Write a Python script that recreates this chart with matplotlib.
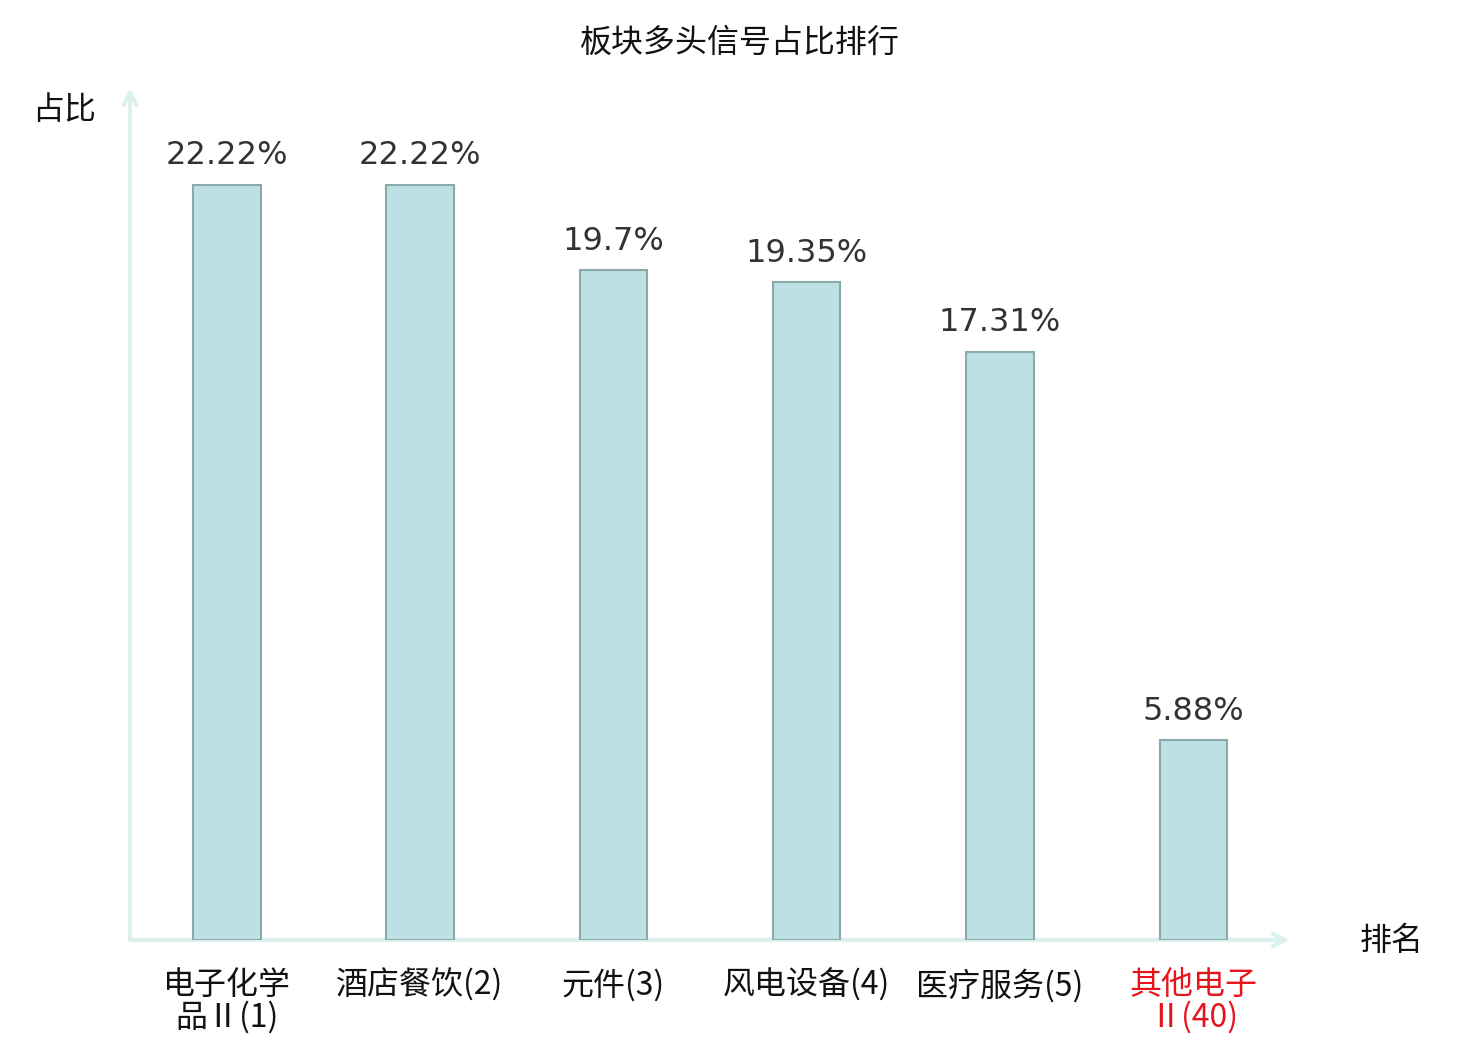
import matplotlib
matplotlib.use("Agg")
import matplotlib.pyplot as plt

plt.rcParams['font.family'] = ['Noto Sans CJK SC', 'DejaVu Sans']

# data
categories = ["电子化学\n品Ⅱ(1)", "酒店餐饮(2)", "元件(3)", "风电设备(4)", "医疗服务(5)", "其他电子\nⅡ(40)"]
values = [22.22, 22.22, 19.7, 19.35, 17.31, 5.88]
value_labels = ["22.22%", "22.22%", "19.7%", "19.35%", "17.31%", "5.88%"]
label_colors = ["#111111", "#111111", "#111111", "#111111", "#111111", "#e8141c"]

fig = plt.figure(figsize=(14.8, 10.4), dpi=100)
ax = fig.add_axes([130 / 1480, 100 / 1040, 1160 / 1480, 852 / 1040])

x = list(range(len(values)))
ax.bar(x, values, width=0.35, color="#bce0e3", edgecolor="#8ba9a9", linewidth=1.5, zorder=2)

for i, v in enumerate(values):
    ax.text(i, v + 0.4, value_labels[i], ha="center", va="bottom",
            fontsize=23, color="#333333", family="DejaVu Sans")

for i, lab in enumerate(categories):
    ax.text(i, -0.85, lab, ha="center", va="top", fontsize=23,
            color=label_colors[i], linespacing=1.0)

ax.set_xlim(-0.5, 5.5)
ax.set_ylim(0, 25.07)
ax.axis("off")

# axis arrows
axis_col = "#dcf1ee"
ax.annotate("", xy=(1.0, 0), xytext=(0, 0), xycoords="axes fraction",
            arrowprops=dict(arrowstyle="->,head_length=0.9,head_width=0.45",
                            color=axis_col, lw=3, shrinkA=0, shrinkB=0), zorder=1)
ax.annotate("", xy=(0, 1.0), xytext=(0, 0), xycoords="axes fraction",
            arrowprops=dict(arrowstyle="->,head_length=0.9,head_width=0.45",
                            color=axis_col, lw=3, shrinkA=0, shrinkB=0), zorder=1)

fig.text(1392 / 1480, 1 - 941 / 1040, "排名", ha="center", va="center", fontsize=23, color="#111111")
fig.text(64 / 1480, 1 - 110 / 1040, "占比", ha="center", va="center", fontsize=23, color="#111111")
fig.text(740 / 1480, 1 - 43 / 1040, "板块多头信号占比排行", ha="center", va="center",
         fontsize=23, color="#111111")

fig.savefig("out.png", dpi=100)
